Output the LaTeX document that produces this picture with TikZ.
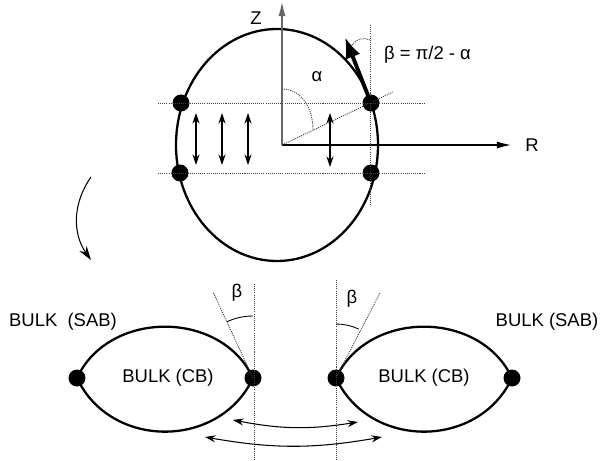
\documentclass[tikz,border=0pt]{standalone}
\usepackage{fontspec}
\setmainfont{Liberation Sans}
\usetikzlibrary{arrows.meta}

\begin{document}
\begin{tikzpicture}[every node/.style={font=\fontsize{10.5}{12}\selectfont},
    blob/.style={circle, fill=black, inner sep=0pt, minimum size=0.34cm},
    guide/.style={black!75, line width=0.5pt, dash pattern=on 0.6pt off 0.6pt},
    outline/.style={line width=1.3pt},
    dbl/.style={{Stealth[length=6pt,width=4pt]}-{Stealth[length=6pt,width=4pt]}, line width=0.6pt}]
    \useasboundingbox (0,0) rectangle (12,9.2);

    % upper cross-section
    \draw[outline] (5.54,6.30) ellipse [x radius=2.02, y radius=2.32];
    \node[blob] (tl) at (3.62,7.14) {};
    \node[blob] (tr) at (7.42,7.14) {};
    \node[blob] (bl) at (3.60,5.74) {};
    \node[blob] (br) at (7.42,5.74) {};

    % axes
    \coordinate (O) at (5.64,6.30);
    \coordinate (ztip) at (5.64,9.16);
    \coordinate (rtip) at (10.22,6.30);
    \draw[black!60, line width=0.6pt, -{Latex[length=8pt,width=4pt]}] (O) -- (ztip);
    \draw[line width=0.6pt, -{Latex[length=8pt,width=4pt]}] (O) -- (rtip);
    \node at (5.12,8.84) {Z};
    \node at (10.64,6.30) {R};

    % guide lines
    \draw[guide] (3.16,7.14) -- (8.50,7.14);
    \draw[guide] (3.16,5.74) -- (8.48,5.74);
    \draw[guide] (7.40,8.70) -- (7.40,5.10);
    \draw[guide] (O) -- (7.86,7.36);
    \draw[guide] (5.64,7.42) .. controls (6.02,7.42) and (6.26,7.05) .. (6.26,6.60);
    \node at (6.34,7.66) {α};

    % tangent arrow
    \coordinate (tang) at (6.90,8.46);
    \draw[line width=2.2pt, -{Latex[length=12pt,width=9pt]}] (tr.center) -- (tang);
    \draw[guide] (7.04,8.30) to[bend left=40] (7.40,8.40);
    \node at (8.55,8.10) {β = π/2 - α};

    % vertical motion
    \draw[dbl] (3.92,6.94) -- (3.92,5.90);
    \draw[dbl] (4.44,6.94) -- (4.44,5.90);
    \draw[dbl] (4.96,6.94) -- (4.96,5.90);
    \draw[dbl] (6.60,6.94) -- (6.60,5.86);

    % transition
    \coordinate (c1) at (1.82,5.66);
    \coordinate (c2) at (1.82,4.00);
    \draw[line width=0.6pt, -{Stealth[length=8pt,width=5pt]}] (c1) to[bend right=35] (c2);

    % lower droplets
    \node[blob] (la) at (1.54,1.64) {};
    \node[blob] (lb) at (5.06,1.64) {};
    \node[blob] (ra) at (6.72,1.64) {};
    \node[blob] (rb) at (10.24,1.64) {};
    \draw[outline] (la.center) to[out=65,in=115,looseness=1.1] (lb.center)
        to[out=-115,in=-65,looseness=1.15] (la.center);
    \draw[outline] (ra.center) to[out=65,in=115,looseness=1.1] (rb.center)
        to[out=-115,in=-65,looseness=1.15] (ra.center);
    \node at (3.36,1.64) {BULK (CB)};
    \node at (8.48,1.64) {BULK (CB)};
    \node at (1.26,2.76) {BULK\ \ (SAB)};
    \node at (10.94,2.76) {BULK (SAB)};

    % contact angles
    \draw[guide] (5.08,3.52) -- (5.08,0);
    \draw[guide] (6.72,3.60) -- (6.72,0);
    \draw[guide] (lb.center) -- (4.26,3.36);
    \draw[guide] (ra.center) -- (7.60,3.34);
    \draw[line width=0.5pt] (lb.center) ++(90:1.24) arc[start angle=90, end angle=115, radius=1.24];
    \draw[line width=0.5pt] (ra.center) ++(90:1.08) arc[start angle=90, end angle=65, radius=1.08];
    \node at (4.74,3.34) {β};
    \node at (7.04,3.22) {β};

    % sliding
    \draw[dbl] (4.66,0.80) to[bend right=10] (7.16,0.76);
    \draw[dbl] (4.10,0.46) to[bend right=10] (7.64,0.46);

\end{tikzpicture}
\end{document}
